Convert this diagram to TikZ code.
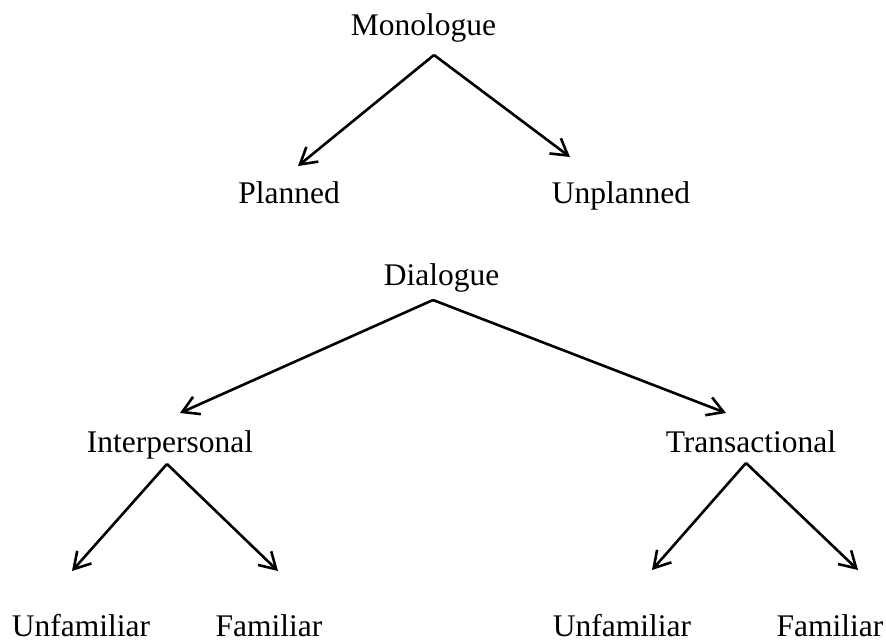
\documentclass[tikz,border=0pt]{standalone}
\usepackage{fontspec}
\setmainfont{Liberation Serif}
\usetikzlibrary{arrows.meta}
\begin{document}
\begin{tikzpicture}[x=1pt,y=-1pt,
  lbl/.style={anchor=base,inner sep=0pt,font=\fontsize{31.5}{38}\selectfont},
  arr/.style={line width=2.6pt,line join=miter,-{Straight Barb[length=16pt,width=19pt,line width=2.6pt]}}]
\useasboundingbox (0,0) rectangle (886,642);
% text nodes
\node[lbl] (mono) at (423.5,36) {Monologue};
\node[lbl] (plan) at (289,203) {Planned};
\node[lbl] (unplan) at (621,203) {Unplanned};
\node[lbl] (dia) at (441.5,285) {Dialogue};
\node[lbl] (inter) at (170,452) {Interpersonal};
\node[lbl] (trans) at (751,452) {Transactional};
\node[lbl] (unfL) at (81,636) {Unfamiliar};
\node[lbl] (famL) at (269,636) {Familiar};
\node[lbl] (unfR) at (622,636) {Unfamiliar};
\node[lbl] (famR) at (830,636) {Familiar};
% connector points
\coordinate (monoA) at (434,55);
\coordinate (planT) at (298,166);
\coordinate (unplanT) at (570,157);
\coordinate (diaA) at (433,300);
\coordinate (interT) at (180,413);
\coordinate (transT) at (726,413);
\coordinate (interA) at (167,464);
\coordinate (unfLT) at (72,571);
\coordinate (famLT) at (278,571);
\coordinate (transA) at (746,463);
\coordinate (unfRT) at (652,570);
\coordinate (famRT) at (858,570);
% connectors
\draw[arr] (monoA) -- (planT);
\draw[arr] (monoA) -- (unplanT);
\draw[arr] (diaA) -- (interT);
\draw[arr] (diaA) -- (transT);
\draw[arr] (interA) -- (unfLT);
\draw[arr] (interA) -- (famLT);
\draw[arr] (transA) -- (unfRT);
\draw[arr] (transA) -- (famRT);
\end{tikzpicture}
\end{document}
